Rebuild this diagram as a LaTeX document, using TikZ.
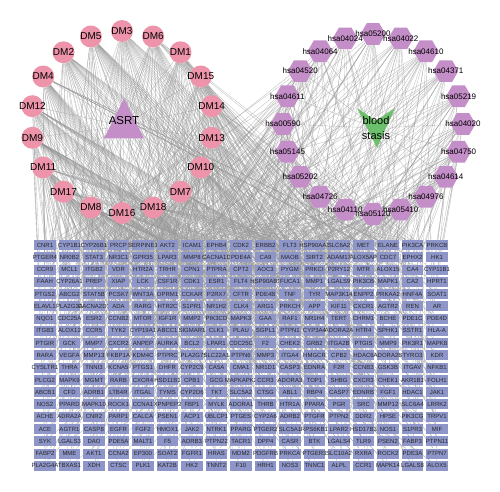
\documentclass[tikz,border=0pt]{standalone}
\usepackage{fontspec}
\setmainfont{Liberation Sans}
\usetikzlibrary{shapes.geometric,backgrounds}
\definecolor{dmpink}{RGB}{238,148,170}
\definecolor{hsapurple}{RGB}{196,143,200}
\definecolor{genebox}{RGB}{142,150,201}
\definecolor{stasisgreen}{RGB}{108,192,108}
\definecolor{edgegray}{RGB}{150,150,150}

\begin{document}
\begin{tikzpicture}[x=1pt,y=-1pt,
    dm/.style={circle,fill=dmpink,minimum size=22pt,inner sep=0pt,font=\fontsize{10}{10}\selectfont},
    hsa/.style={regular polygon,regular polygon sides=6,fill=hsapurple,minimum size=25pt,inner sep=0pt,font=\fontsize{8}{8}\selectfont},
    gene/.style={rectangle,fill=genebox,minimum width=21.5pt,minimum height=10pt,inner sep=0pt,font=\fontsize{6}{6}\selectfont,text=black!85},
    link/.style={draw=edgegray,line width=0.35pt,opacity=0.6}]
        \useasboundingbox (0,0) rectangle (500,491);

        % 中心节点
        \node[isosceles triangle,isosceles triangle stretches,shape border rotate=90,fill=hsapurple,
              minimum width=40pt,minimum height=40pt,inner sep=0pt,
              label={[font=\fontsize{11.5}{11.5}\selectfont,yshift=5pt]center:ASRT}] (asrt) at (124,126) {};
        \fill[stasisgreen] (357,108) -- (376,121) -- (395,108) -- (377,148) -- cycle;
        \node[align=center,font=\fontsize{11}{15}\selectfont,inner sep=1pt] (stasis) at (376,128) {blood\\stasis};

        % 左侧成分
        \foreach \lab [count=\i] in {DM3,DM6,DM1,DM15,DM14,DM13,DM10,DM7,DM18,DM16,DM8,DM17,DM11,DM9,DM12,DM4,DM2,DM5}
            \node[dm] (dm\i) at ({122+91*cos(110-20*\i)},{122-91*sin(110-20*\i)}) {\makebox[0pt]{\lab}};

        % 右侧通路
        \foreach \lab [count=\i] in {hsa05200,hsa04022,hsa04610,hsa04371,hsa05219,hsa04020,hsa04750,hsa04614,hsa04976,hsa05410,
                                    hsa05120,hsa04110,hsa04726,hsa05202,hsa05145,hsa00590,hsa04611,hsa04520,hsa04064,hsa04024}
            \node[hsa] (hsa\i) at ({373+90*cos(108-18*\i)},{124-90*sin(108-18*\i)}) {\makebox[0pt]{\lab}};

        % 靶点网格
        \foreach \row [count=\r] in {
            {CNR1,CYP1B1,CYP26B1,PRCP,SERPINE1,AKT2,ICAM1,EPHB4,CDK2,ERBB2,FLT3,HSP90AA1,SLC6A2,MET,ELANE,PIK3CA,PRKCB},
            {PTGER4,NR0B2,STAT3,NR3C1,GPR35,LPAR3,MMP8,CACNA1D,PDE4A,CA9,MAOB,SIRT2,ADAM17,ALOX5AP,CDC7,EPHX2,HK1},
            {CCR9,MCL1,ITGB2,VDR,HTR2A,TRHR,CPN1,PTPRA,CPT2,AOC3,PYGM,PRKCI,P2RY12,MTR,ALOX15,CA4,CYP11B1},
            {FAAH,CYP26A1,PREP,XIAP,LCK,CSF1R,CDK1,ESR1,FLT4,HSP90AB1,FUCA1,MMP1,LGALS9,PIK3CB,MAPK1,CA2,HPRT1},
            {PTGS2,ABCG2,STAT5B,PCSK7,WNT3A,OPRM1,CCKAR,P2RX7,CFTR,PDE4B,TNF,TYR,MAP3K14,ENPP2,PRKAA2,HNF4A,SOAT1},
            {ELAVL1,PLA2G2A,CACNA2D1,ADA,RARG,HTR2C,S1PR1,NR1H2,CLK4,ARG1,PRKCH,APP,KIF11,CXCR1,AGTR2,REN,AR},
            {NQO1,CDC25A,ESR2,CCNB2,MTOR,IGF1R,MMP2,PIK3CD,MAPK3,GAA,RAF1,NR1H4,TERT,CHRM1,BCHE,PDE1C,PDE4D},
            {ITGB3,ALOX12,CCR5,TYK2,CYP19A1,ABCC1,SIGMAR1,CLK1,PLAU,SGPL1,PTPN1,CYP3A4,ADORA2A,HTR4,SPHK1,SSTR1,HLA-A},
            {PTGIR,GCK,MMP7,CXCR2,ANPEP,AURKA,BCL2,LPAR1,CDC25C,F2,CHEK2,GRB2,ITGA2B,PTGIS,MMP9,PIK3R1,MAPK8},
            {RARA,VEGFA,MMP13,FKBP1A,KDM4C,PTPRC,PLA2G7,SLC22A1,PTPN6,MMP3,ITGA4,HMGCR,CPB2,HDAC6,ADORA2B,TYRO3,KDR},
            {CYSLTR1,THRA,TNNI3,KCNA5,PTGS1,DHFR,CYP2C9,CA5A,CMA1,NR1D1,CASP3,EDNRA,F2R,CCNB3,GSK3B,ITGAV,NFKB1},
            {PLCG2,MAPK9,MGMT,RARB,CXCR4,HSD11B1,CPB1,GCG,MAPKAPK2,CCR3,ADORA3,TOP1,SHBG,CXCR3,CHEK1,AKR1B1,FOLH1},
            {ABCB1,CFD,ADRB1,LTB4R,ITGAL,TYMS,CYP2D6,TKT,SLC5A2,CTSG,ABL1,RBP4,CASP7,EDNRB,FGF1,HDAC1,JAK1},
            {NOS2,PPARD,MAPK10,ROCK1,CCNA1,XPNPEP2,FBP1,MYLK,ADORA1,THRB,HTR1A,PPARA,PGR,SRC,MMP12,SLC6A4,LRRK2},
            {ACHE,ADRA2A,CNR2,PARP1,CALCA,PSEN1,ACP1,UBLCP1,PTGES,CYP2A6,ADRB2,PTGFR,PTPN2,DDR2,HPSE,PIK3CG,TRPV1},
            {ACE,AGTR1,CASP8,EGFR,FGF2,HMOX1,JAK2,NTRK1,PPARG,PTGER2,SLC5A1,RPS6KB1,LPAR2,HSD17B3,NOS1,S1PR3,MIF},
            {SYK,LGALS3,DAO,PDE5A,MALT1,F5,ADRB3,PTPN22,TACR1,DPP4,CASR,BTK,LGALS4,TLR9,PSEN2,FABP3,PTPN11},
            {FABP2,MME,AKT1,CCNA2,EP300,SOAT2,FGFR1,HRAS,MDM2,PDGFRB,PRKCA,PTGER3,SLC10A2,RXRA,ROCK2,PDE3A,PTPN7},
            {PLA2G4A,TBXAS1,XDH,CTSC,PLK1,KAT2B,HK2,TNNT2,F10,HRH1,NOS3,TNNC1,ALPL,CCR1,MAPK14,LGALS8,ALOX5}}
            \foreach \lab [count=\c] in \row
                \node[gene] (g-\r-\c) at ({20.5+24.5*\c},{232.7+12.27*\r}) {\makebox[0pt]{\lab}};

        % 添加连接线
        \begin{pgfonlayer}{background}
            \foreach \i in {1,...,18} \draw[link] (asrt) -- (dm\i);
            \foreach \i in {1,...,20} \draw[link] (stasis) -- (hsa\i);
            \foreach \r in {1,...,19}
                \foreach \c in {1,...,17} {
                    \pgfmathtruncatemacro\k{(\r-1)*17+\c}
                    \pgfmathtruncatemacro\da{mod(\k*7,18)+1}
                    \pgfmathtruncatemacro\db{mod(\k*11+5,18)+1}
                    \pgfmathtruncatemacro\ha{mod(\k*13+3,20)+1}
                    \draw[link] (dm\da) -- (g-\r-\c);
                    \draw[link] (dm\db) -- (g-\r-\c);
                    \draw[link] (hsa\ha) -- (g-\r-\c);
                }
        \end{pgfonlayer}
    \end{tikzpicture}
\end{document}
